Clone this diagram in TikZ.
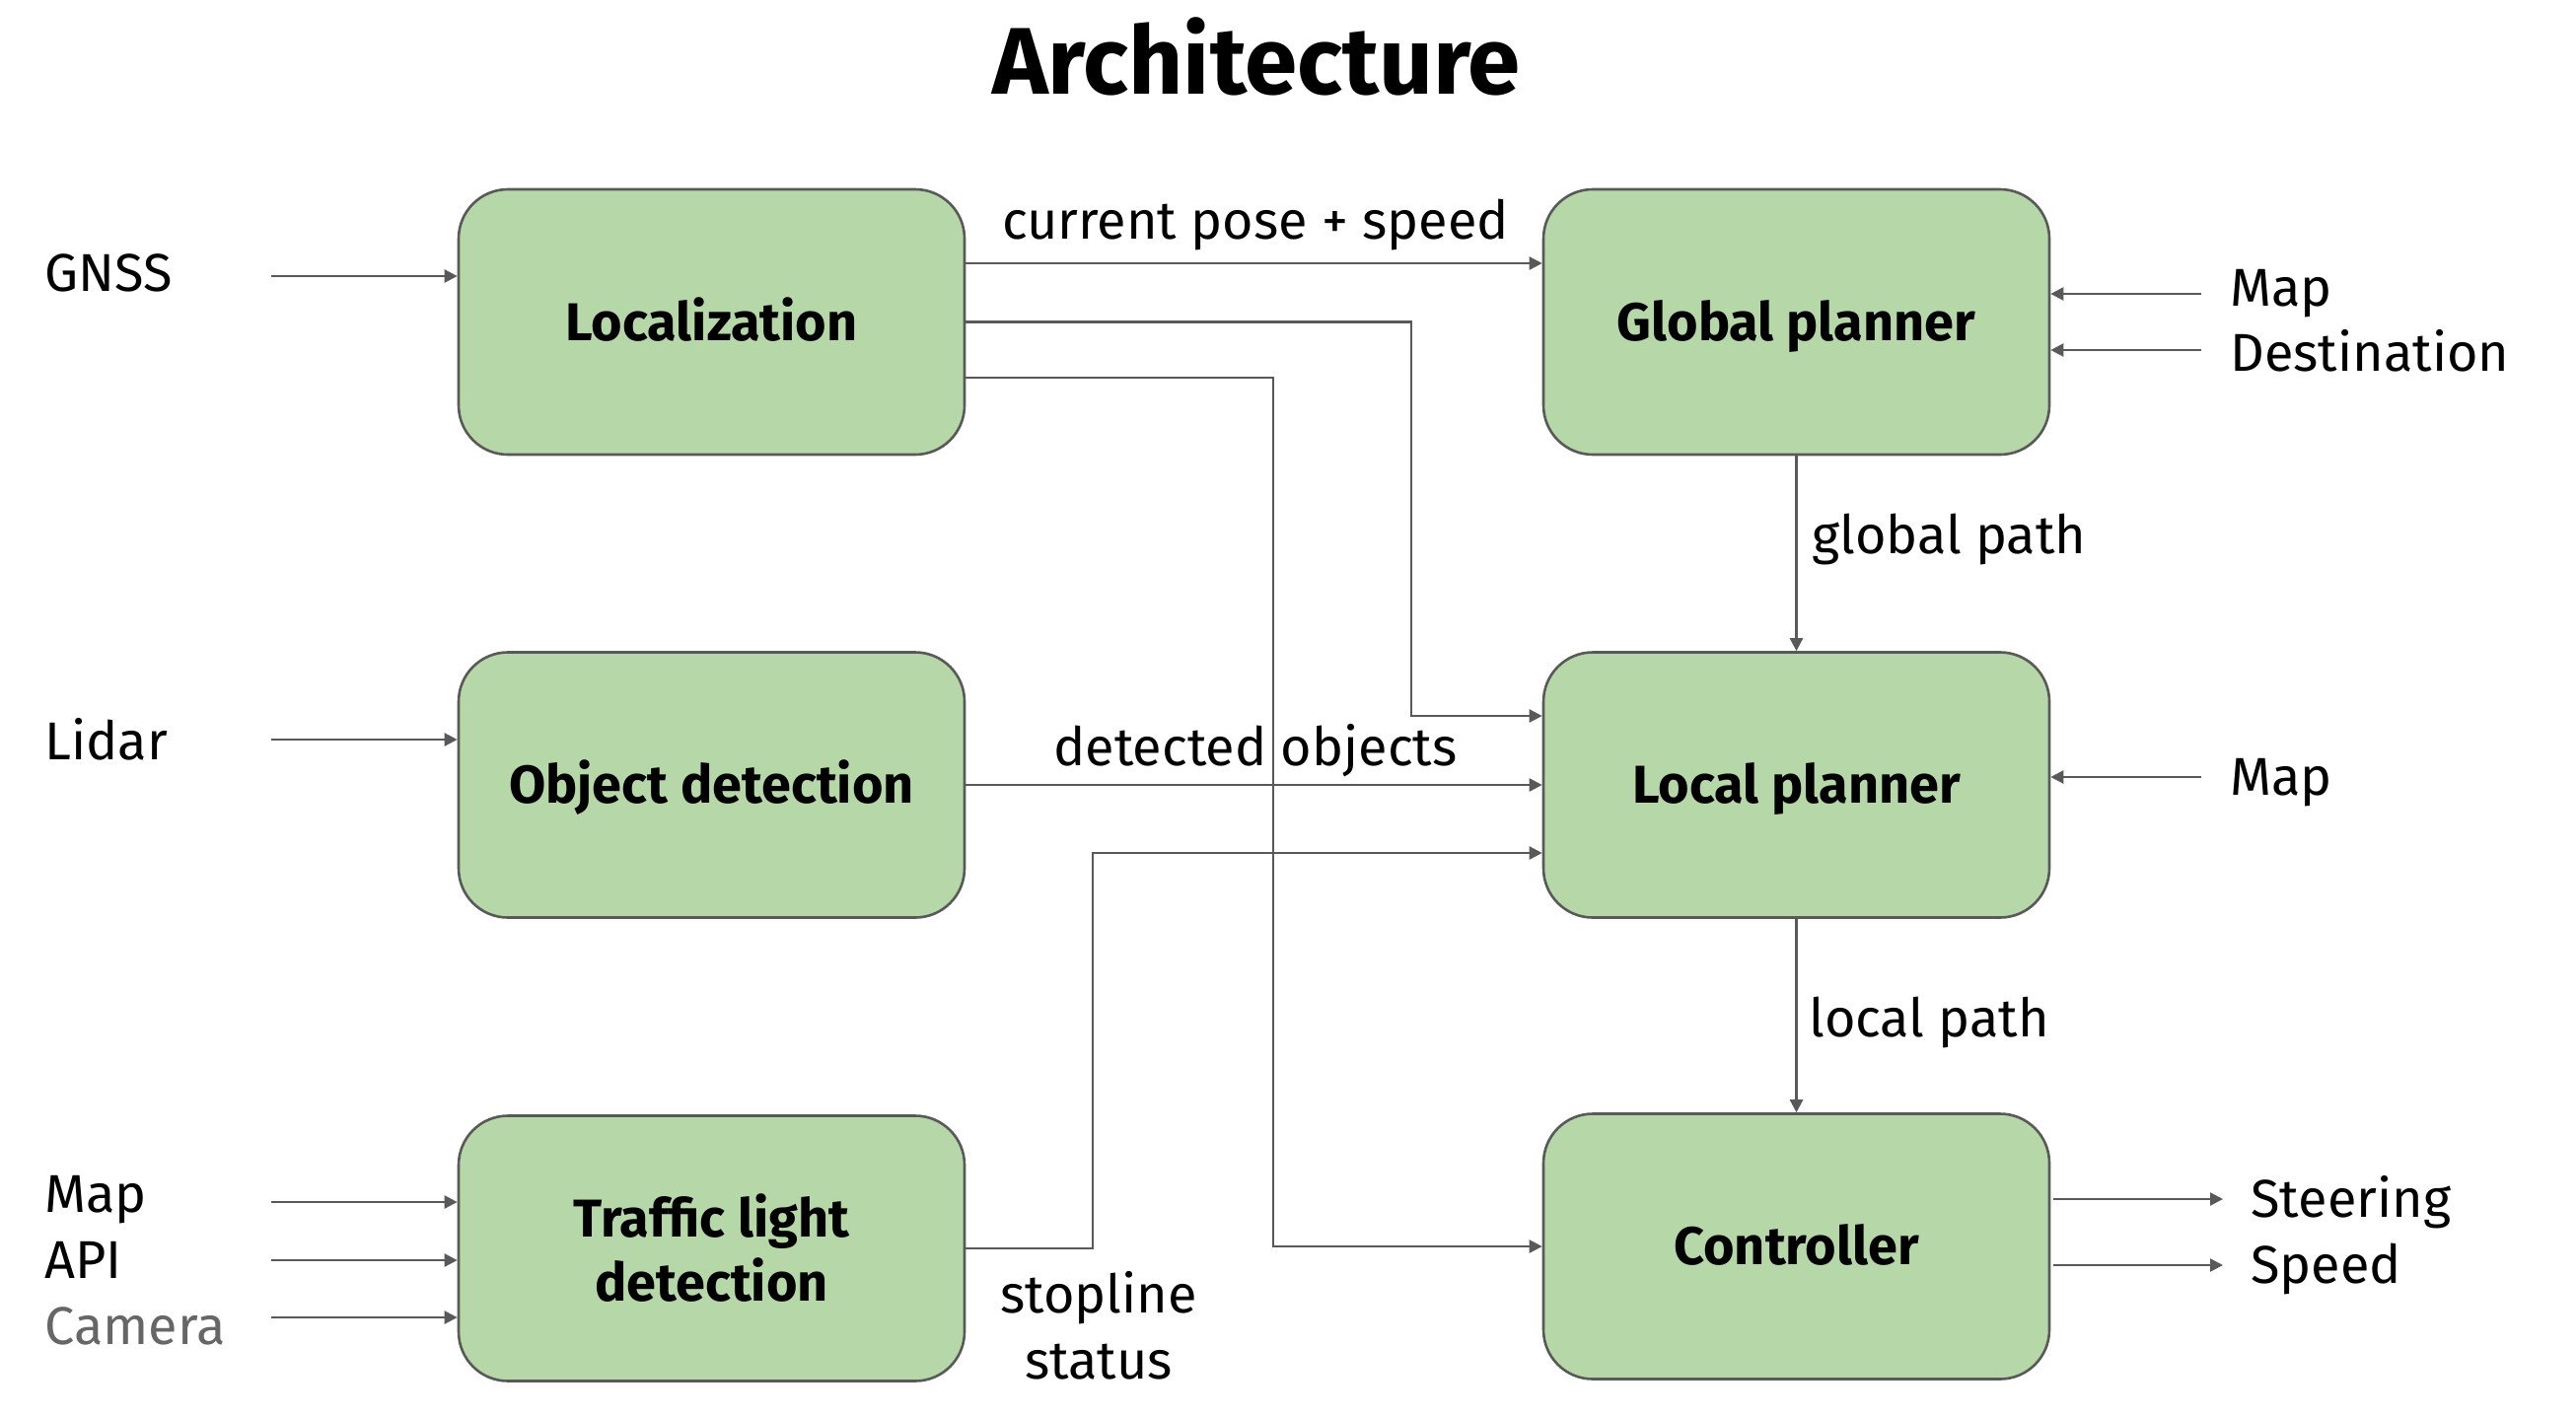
\documentclass[tikz,border=0pt]{standalone}
\usepackage{fontspec}
\setmainfont{Fira Sans}
\usetikzlibrary{arrows.meta,calc}
\definecolor{boxfill}{HTML}{B6D7A8}
\definecolor{edge}{HTML}{595959}
\definecolor{camgray}{HTML}{666666}
\newcommand{\eqht}[1]{\vphantom{L}\smash{#1}}
\begin{document}
\begin{tikzpicture}[x=0.5pt,y=-0.5pt,
  block/.style={draw=edge, line width=1.3pt, fill=boxfill, rounded corners=25pt,
    minimum width=256.5pt, minimum height=134.5pt, align=center,
    font=\fontsize{27}{32.5}\selectfont\bfseries, inner sep=0pt},
  lab/.style={font=\fontsize{27}{33}\selectfont, inner sep=0pt},
  conn/.style={draw=edge, line width=1.2pt, -{Triangle[length=6.5pt,width=6.5pt]}},
]
\useasboundingbox (0,0) rectangle (2612,1436);

% title
\node[font=\fontsize{48}{56}\selectfont\bfseries, anchor=base, inner sep=0pt] (title) at (1274,95) {Architecture};

% blocks
\node[block] (loc)   at (721.5,326.5) {\eqht{Localization}};
\node[block] (glob)  at (1821.5,326.5) {\eqht{Global planner}};
\node[block] (obj)   at (721.5,796) {\eqht{Object detection}};
\node[block] (local) at (1821.5,796) {\eqht{Local planner}};
\node[block] (tl)    at (721.5,1266) {Traffic light\\detection};
\node[block] (ctrl)  at (1821.5,1264) {\eqht{Controller}};

% side labels
\node[lab, anchor=base west] (gnss)  at (45,295) {GNSS};
\node[lab, anchor=base west] (lidar) at (45,770) {Lidar};
\node[lab, anchor=base west] (mapT)  at (45,1229) {Map};
\node[lab, anchor=base west] (api)   at (45,1296) {API};
\node[lab, anchor=base west, text=camgray] (cam) at (45,1363) {Camera};
\node[lab, anchor=base west] (mapG)  at (2261,310) {Map};
\node[lab, anchor=base west] (dest)  at (2261,376) {Destination};
\node[lab, anchor=base west] (mapL)  at (2261,806) {Map};
\node[lab, anchor=base west] (steer) at (2282,1234) {Steering};
\node[lab, anchor=base west] (speed) at (2282,1301) {Speed};

% connector labels
\node[lab, anchor=base] (lpose) at (1273,242) {current pose + speed};
\node[lab, anchor=base] (ldet)  at (1273,776) {detected objects};
\node[lab, anchor=base west] (lglob) at (1837,561) {global path};
\node[lab, anchor=base west] (lloc)  at (1834,1051) {local path};
\node[lab, anchor=base] (lstop) at (1114,1331) {stopline};
\node[lab, anchor=base] (lstat) at (1114,1398) {status};

% free connector ends
\coordinate (gnssS)  at (275,280);
\coordinate (lidarS) at (275,750);
\coordinate (mapTS)  at (275,1219);
\coordinate (apiS)   at (275,1278);
\coordinate (camS)   at (275,1336);
\coordinate (mapGS)  at (2232,298);
\coordinate (destS)  at (2232,355);
\coordinate (mapLS)  at (2232,788);
\coordinate (steerE) at (2254,1216);
\coordinate (speedE) at (2254,1283);

% inputs
\draw[conn] (gnssS) -- (loc.west |- gnssS);
\draw[conn] (lidarS) -- (obj.west |- lidarS);
\draw[conn] (mapTS) -- (tl.west |- mapTS);
\draw[conn] (apiS) -- (tl.west |- apiS);
\draw[conn] (camS) -- (tl.west |- camS);
\draw[conn] (mapGS) -- (glob.east |- mapGS);
\draw[conn] (destS) -- (glob.east |- destS);
\draw[conn] (mapLS) -- (local.east |- mapLS);

% outputs
\draw[conn] ([xshift=1.5pt]ctrl.east |- steerE) -- (steerE);
\draw[conn] ([xshift=1.5pt]ctrl.east |- speedE) -- (speedE);

% internal
\draw[conn] ($(loc.east)+(0,-59.5)$) -- ($(glob.west)+(0,-59.5)$);
\draw[conn] (loc.east) -| ($(local.west)+(-133,-70)$) -- ($(local.west)+(0,-70)$);
\draw[conn] ($(loc.east)+(0,56.5)$) -| ($(ctrl.west)+(-273,0)$) -- (ctrl.west);
\draw[conn] (glob.south) -- (local.north);
\draw[conn] (obj.east) -- (local.west);
\draw[conn] (tl.east) -| ($(local.west)+(-456,69)$) -- ($(local.west)+(0,69)$);
\draw[conn] (local.south) -- (ctrl.north);
\end{tikzpicture}
\end{document}
